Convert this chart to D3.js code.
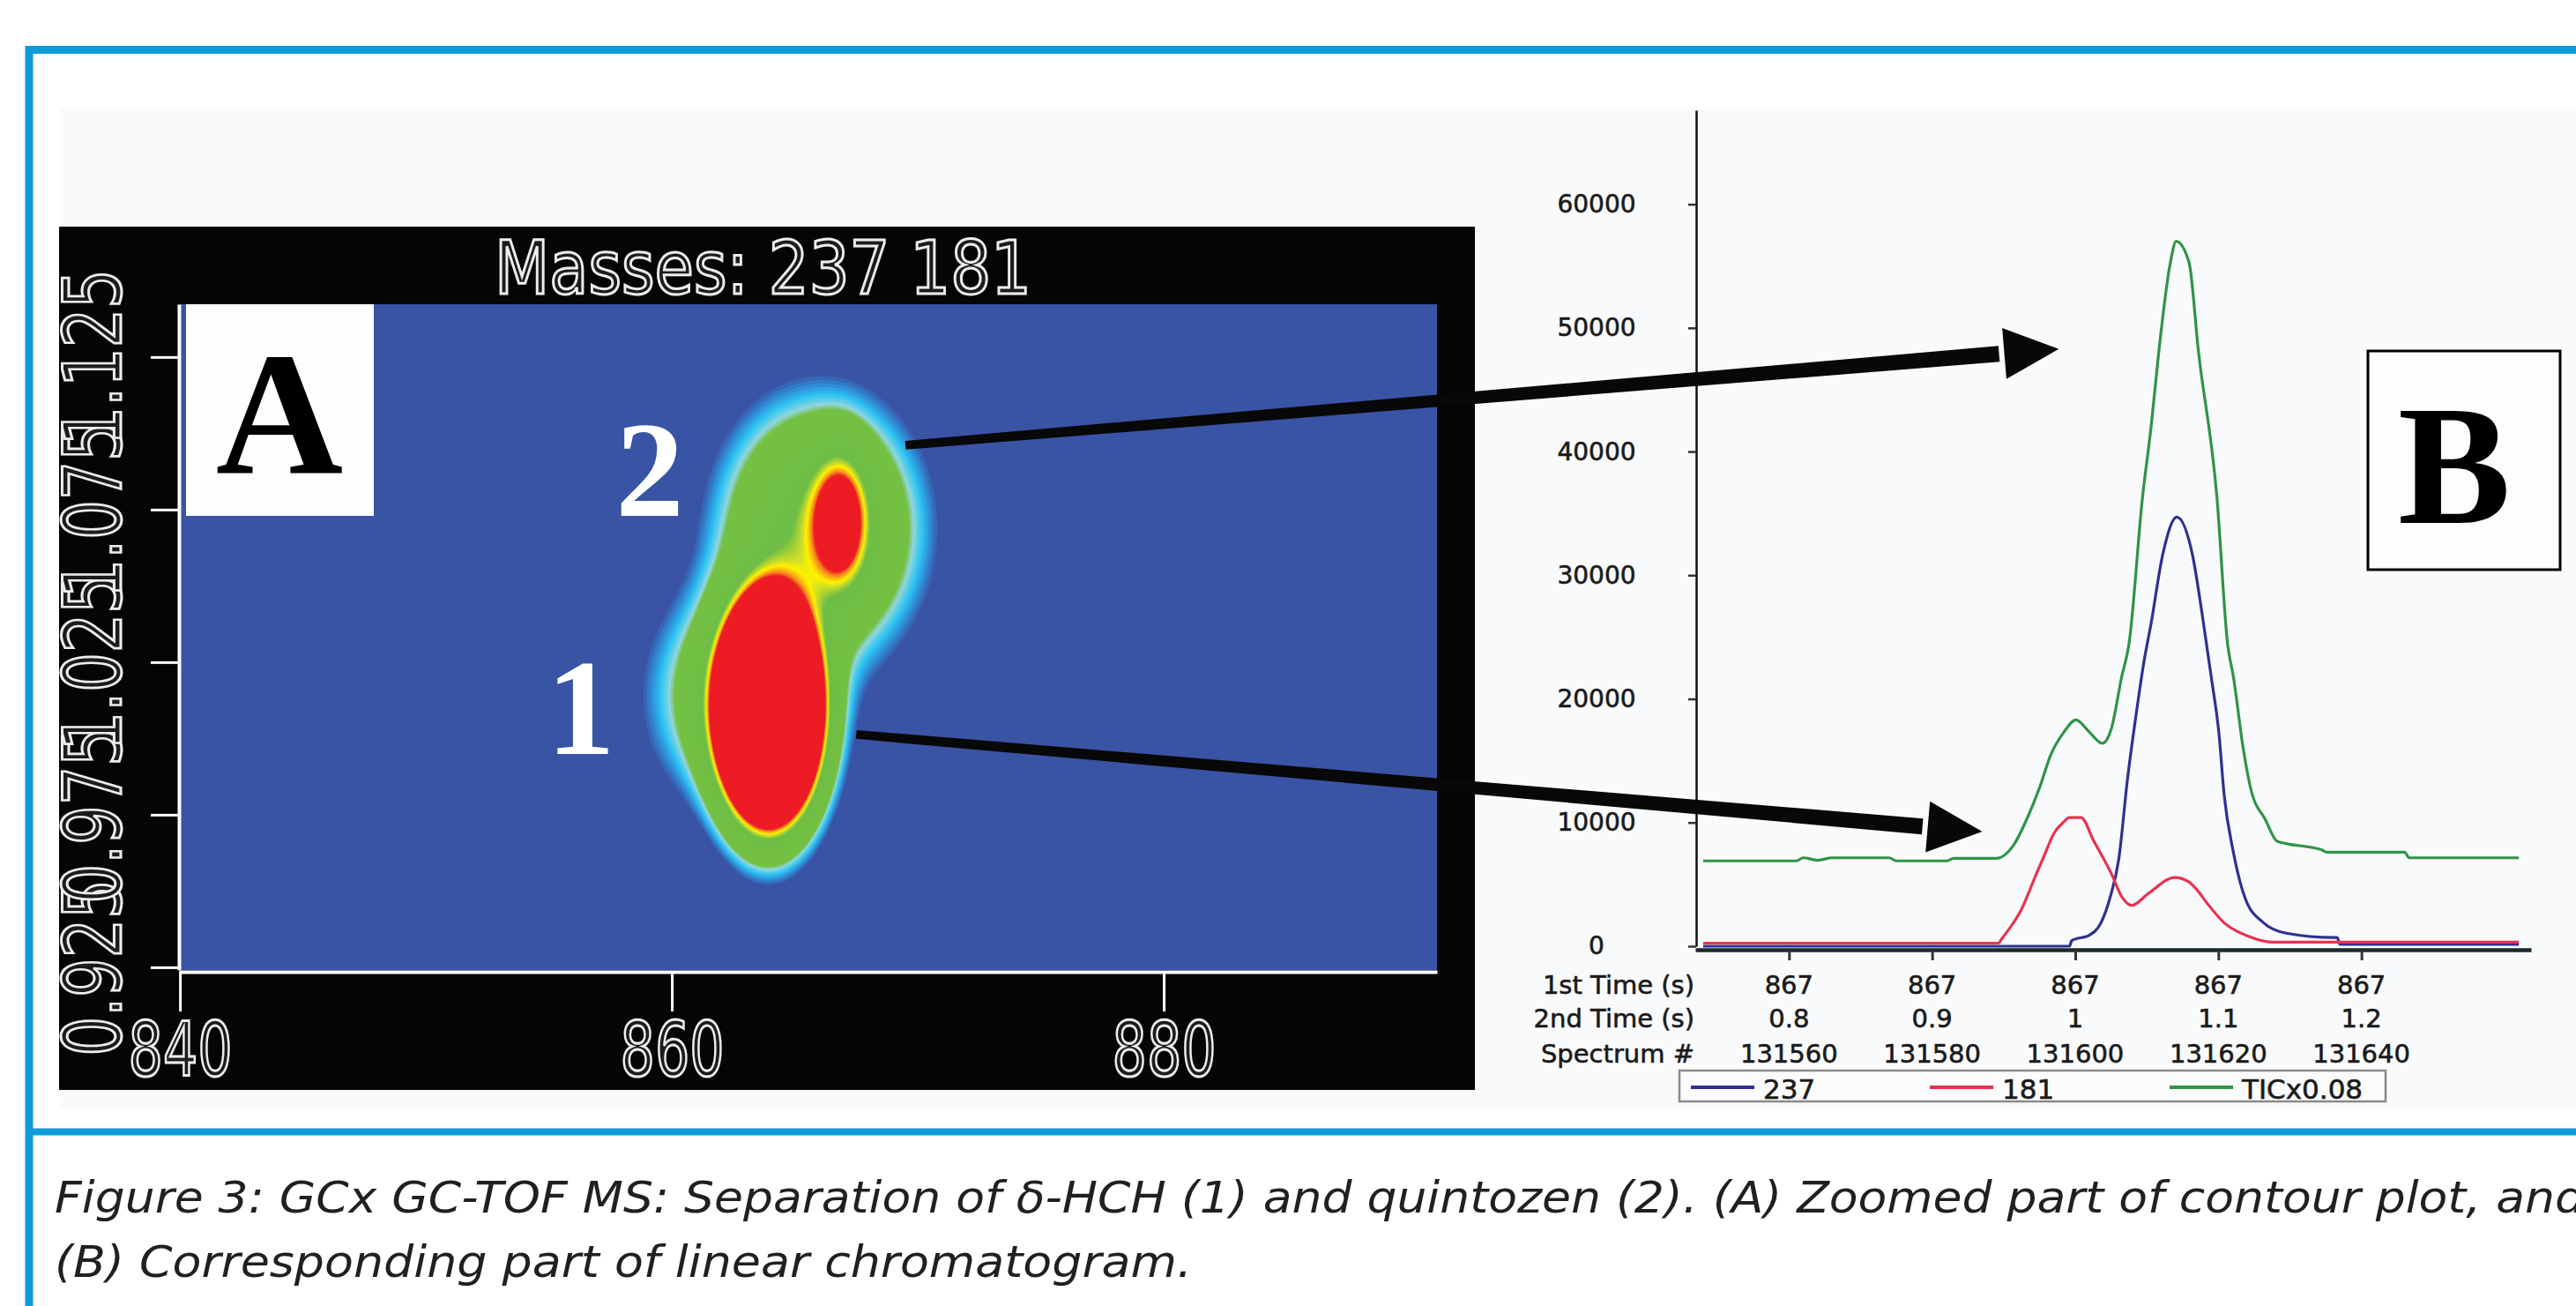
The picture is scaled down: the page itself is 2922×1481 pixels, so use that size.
<!DOCTYPE html>
<html>
<head>
<meta charset="utf-8">
<script src="https://cdn.jsdelivr.net/npm/d3@7"></script>
<style>
  html, body { margin: 0; padding: 0; background: #fff; }
  svg { display: block; }
</style>
</head>
<body>
<div id="chart"></div>
<script>
// ---------- panel A : GCxGC contour, peak components (1st time s, 2nd time s)
const peakT1 = [863.94, 862.8, 866.02, 866.85];
const peakT2 = [1.0094, 1.0138, 1.0686, 1.0715];
const peakW1 = [1.057, 2.2, 2.294, 0.717];
const peakW2 = [0.0185, 0.0215, 0.024, 0.0136];
const peakH = [4.54, 0.2, 0.35, 0.45];
const xTicksA = [840, 860, 880];
const yTicksA = [0.925, 0.975, 1.025, 1.075, 1.125];
const spotLabels = ["1", "2"];
const spotT1 = [856.3, 859.1];
const spotT2 = [0.995, 1.073];

// ---------- panel B : linear chromatogram
const specTicks = [131560, 131580, 131600, 131620, 131640];
const firstTime = ["867", "867", "867", "867", "867"];
const secondTime = ["0.8", "0.9", "1", "1.1", "1.2"];
const yTicksB = [0, 10000, 20000, 30000, 40000, 50000, 60000];

const spec237 = [131548, 131599.2, 131599.5, 131602, 131603.6, 131604.8, 131606.1, 131607.3, 131608.5, 131609.6, 131610.6, 131612.2, 131614.2, 131616.4, 131617.8, 131619, 131620.1, 131620.8, 131622.1, 131623.8, 131626.3, 131629.5, 131636.1, 131636.6, 131637, 131662];
const int237 = [0, 0, 450, 900, 1900, 3800, 7100, 13500, 18700, 23000, 26100, 31600, 34700, 31600, 26600, 21800, 17100, 12300, 7600, 3800, 1900, 1050, 700, 700, 150, 150];

const spec181 = [131548, 131589.3, 131589.7, 131592.5, 131594.6, 131595.5, 131597.1, 131598.3, 131599.2, 131600.8, 131602.6, 131605.1, 131606.5, 131607.9, 131610.2, 131613.9, 131615.9, 131617.1, 131618.4, 131620.8, 131624.2, 131627.5, 131662];
const int181 = [250, 250, 570, 3000, 5900, 7100, 9200, 10000, 10400, 10400, 8500, 5800, 4000, 3300, 4250, 5560, 5200, 4500, 3500, 1900, 800, 330, 330];

const specTIC = [131548, 131561, 131562, 131564, 131566, 131574, 131575, 131582, 131583, 131589, 131591.3, 131593.4, 131595, 131596.6, 131598.4, 131600.1, 131602, 131603.8, 131605, 131606.5, 131607.5, 131609.4, 131610.6, 131611.7, 131613.3, 131614.1, 131615.9, 131617.2, 131619.8, 131621.3, 131622.1, 131623.5, 131624.5, 131626.6, 131628.2, 131629.5, 131634.4, 131635.2, 131646, 131646.7, 131662];
const intTIC = [6900, 6900, 7150, 6950, 7150, 7150, 6900, 6900, 7100, 7100, 8100, 10500, 12800, 15500, 17300, 18300, 17300, 16400, 17500, 21800, 24400, 36300, 42000, 48200, 55300, 57000, 55300, 48200, 36300, 24400, 21800, 15900, 12800, 10200, 8500, 8300, 7800, 7600, 7600, 7150, 7150];

const seriesNames = ["237", "181", "TICx0.08"];
const seriesColors = ["#2e3192", "#e8334f", "#2f9446"];

// arrows: start in panel A (t1, t2), tip in panel B (spectrum, intensity)
const arrowT1 = [869.5, 867.5];
const arrowT2 = [1.0961, 1.0013];
const arrowSpec = [131597.7, 131587.0];
const arrowInt = [48300, 9270];

const W = 2922, H = 1481;
const svg = d3.select("#chart").append("svg")
  .attr("width", W).attr("height", H)
  .attr("viewBox", `0 0 ${W} ${H}`);

const blue = "#0e9bd8";
const narrow = "'Liberation Sans Narrow', 'Arial Narrow', 'DejaVu Sans Condensed', 'Roboto Condensed', sans-serif";
const serif = "'Liberation Serif', 'Times New Roman', serif";
const plain = "'DejaVu Sans', Verdana, sans-serif";

// frame + figure background
svg.append("rect").attr("x", 68).attr("y", 123).attr("width", W - 68).attr("height", 1134).attr("fill", "#f9fafc");
svg.append("path").attr("d", `M${W + 10},56.5H33V${H + 10}`)
  .attr("fill", "none").attr("stroke", blue).attr("stroke-width", 9);
svg.append("line").attr("x1", 33).attr("x2", W).attr("y1", 1283.5).attr("y2", 1283.5)
  .attr("stroke", blue).attr("stroke-width", 8);

// ================= PANEL A =================
svg.append("rect").attr("x", 67).attr("y", 257).attr("width", 1606).attr("height", 979).attr("fill", "#050505");

const xA = d3.scaleLinear().domain([839.96, 891.11]).range([203, 1630]);
const yA = d3.scaleLinear().domain([0.9241, 1.1423]).range([1100, 345]);

svg.append("clipPath").attr("id", "clipA").append("rect")
  .attr("x", 203).attr("y", 345).attr("width", 1427).attr("height", 755);

const gA = svg.append("g").attr("clip-path", "url(#clipA)");
gA.append("rect").attr("x", 203).attr("y", 345).attr("width", 1427).attr("height", 755).attr("fill", "#3953a5");

const cell = 3;
const nx = Math.ceil(1427 / cell), ny = Math.ceil(755 / cell);
const field = new Float64Array(nx * ny);
for (let j = 0; j < ny; j++) {
  const t2 = yA.invert(345 + (j + 0.5) * cell);
  for (let i = 0; i < nx; i++) {
    const t1 = xA.invert(203 + (i + 0.5) * cell);
    let v = 0;
    for (let k = 0; k < peakH.length; k++) {
      const a = (t1 - peakT1[k]) / peakW1[k], b = (t2 - peakT2[k]) / peakW2[k];
      v += peakH[k] * Math.exp(-0.5 * (a * a + b * b));
    }
    field[j * nx + i] = v;
  }
}
const levels = d3.range(0.03, 0.505, 0.005);
const heat = d3.scaleLinear()
  .domain([0.035, 0.05, 0.065, 0.085, 0.1, 0.34, 0.39, 0.42, 0.47, 0.5])
  .range(["#3953a5", "#2f8fd8", "#2ec4f3", "#8fd6dc", "#74c043", "#6ebe46", "#c8dc2c", "#fff200", "#f58220", "#ed1c24"])
  .clamp(true);
const contours = d3.contours().size([nx, ny]).thresholds(levels)(field);
const cpath = d3.geoPath(d3.geoIdentity().scale(cell).translate([203, 345]));
gA.selectAll("path.c").data(contours).join("path")
  .attr("class", "c")
  .attr("d", cpath)
  .attr("fill", d => heat(d.value));

// axes of panel A
const outlined = sel => sel
  .attr("fill", "#1c1c1c").attr("stroke", "#ededed").attr("stroke-width", 3)
  .attr("font-family", narrow).attr("font-stretch", "condensed");

const axA = svg.append("g").attr("transform", "translate(0,1102)")
  .call(d3.axisBottom(xA).tickValues(xTicksA).tickSize(45).tickSizeOuter(0).tickFormat(d3.format("d")));
axA.select(".domain").attr("stroke", "#fff").attr("stroke-width", 4);
axA.selectAll(".tick line").attr("stroke", "#fff").attr("stroke-width", 3);
axA.selectAll(".tick text").attr("y", 118).attr("dy", 0).attr("font-size", 86)
  .attr("textLength", 118).attr("lengthAdjust", "spacingAndGlyphs").call(outlined);

const ayA = svg.append("g").attr("transform", "translate(203,0)")
  .call(d3.axisLeft(yA).tickValues(yTicksA).tickSize(32).tickSizeOuter(0).tickFormat(d3.format(".3f")));
ayA.select(".domain").attr("stroke", "#fff").attr("stroke-width", 4);
ayA.selectAll(".tick line").attr("stroke", "#fff").attr("stroke-width", 3);
ayA.selectAll(".tick text")
  .attr("x", 0).attr("y", 0).attr("dy", 0)
  .attr("text-anchor", "middle")
  .attr("transform", "translate(-66,0) rotate(-90)")
  .attr("font-size", 90).attr("textLength", 200).attr("lengthAdjust", "spacingAndGlyphs")
  .call(outlined);

svg.append("text").attr("x", 561).attr("y", 333)
  .attr("font-size", 84).attr("textLength", 609).attr("lengthAdjust", "spacingAndGlyphs")
  .text("Masses:  237 181").call(outlined);

// A label box
svg.append("rect").attr("x", 211).attr("y", 345).attr("width", 213).attr("height", 240).attr("fill", "#fdfdfd");
svg.append("text").attr("x", 317).attr("y", 537).attr("text-anchor", "middle")
  .attr("font-family", serif).attr("font-weight", "bold").attr("font-size", 200).attr("fill", "#000").text("A");

// spot labels
svg.selectAll("text.spot").data(spotLabels).join("text")
  .attr("class", "spot")
  .attr("x", (d, i) => xA(spotT1[i])).attr("y", (d, i) => yA(spotT2[i]))
  .attr("text-anchor", "middle")
  .attr("font-family", serif).attr("font-weight", "bold").attr("font-size", 155)
  .attr("fill", "#fff").text(d => d);

// ================= PANEL B =================
const xB = d3.scaleLinear().domain([131546.9, 131663.7]).range([1923, 2871]);
const yB = d3.scaleLinear().domain([0, 67600]).range([1073, 125]);

const ayB = svg.append("g").attr("transform", "translate(1924,0)")
  .call(d3.axisLeft(yB).tickValues(yTicksB).tickSize(9).tickSizeOuter(0).tickFormat(d3.format("d")));
ayB.select(".domain").attr("stroke", "#111").attr("stroke-width", 2.5);
ayB.selectAll(".tick line").attr("stroke", "#333").attr("stroke-width", 2.5);
ayB.selectAll(".tick text").attr("x", -113).attr("text-anchor", "middle")
  .attr("font-family", plain).attr("font-size", 28).attr("fill", "#1a1a1a")
  .attr("stroke", "#1a1a1a").attr("stroke-width", 0.6);

const lines = [[spec237, int237], [spec181, int181], [specTIC, intTIC]];
const lineGen = d3.line().x(d => xB(d[0])).y(d => yB(d[1])).curve(d3.curveMonotoneX);
svg.selectAll("path.series").data(lines).join("path")
  .attr("class", "series")
  .attr("d", d => lineGen(d3.zip(d[0], d[1])))
  .attr("fill", "none")
  .attr("stroke", (d, i) => seriesColors[i])
  .attr("stroke-width", 3.2)
  .attr("stroke-linejoin", "round");

const axB = svg.append("g").attr("transform", "translate(0,1077)")
  .call(d3.axisBottom(xB).tickValues(specTicks).tickSize(12).tickSizeOuter(0).tickFormat(""));
axB.select(".domain").attr("stroke", "#1a2a2a").attr("stroke-width", 4.5);
axB.selectAll(".tick line").attr("stroke", "#333").attr("stroke-width", 3);

const rowNames = ["1st Time (s)", "2nd Time (s)", "Spectrum #"];
const rowY = [1127, 1165, 1205];
const rows = [firstTime, secondTime, specTicks.map(String)];
const gRows = svg.append("g").attr("font-family", plain).attr("font-size", 29).attr("fill", "#1a1a1a")
  .attr("stroke", "#1a1a1a").attr("stroke-width", 0.6);
rows.forEach((row, r) => {
  gRows.append("text").attr("x", 1922).attr("y", rowY[r]).attr("text-anchor", "end").text(rowNames[r]);
  gRows.selectAll(null).data(row).join("text")
    .attr("x", (d, i) => xB(specTicks[i])).attr("y", rowY[r])
    .attr("text-anchor", "middle").text(d => d);
});

// legend
const leg = svg.append("g");
leg.append("rect").attr("x", 1905).attr("y", 1214).attr("width", 801).attr("height", 35)
  .attr("fill", "#fbfbfb").attr("stroke", "#8a8a8a").attr("stroke-width", 2.5);
const legX = [1918, 2189, 2461];
seriesNames.forEach((name, i) => {
  leg.append("line").attr("x1", legX[i]).attr("x2", legX[i] + 72).attr("y1", 1233).attr("y2", 1233)
    .attr("stroke", seriesColors[i]).attr("stroke-width", 4);
  leg.append("text").attr("x", legX[i] + 82).attr("y", 1246)
    .attr("font-family", plain).attr("font-size", 31).attr("fill", "#1a1a1a")
    .attr("stroke", "#1a1a1a").attr("stroke-width", 0.6).text(name);
});

// B label box
svg.append("rect").attr("x", 2686).attr("y", 398).attr("width", 218).attr("height", 248)
  .attr("fill", "#fdfdfd").attr("stroke", "#000").attr("stroke-width", 3);
svg.append("text").attr("x", 2784).attr("y", 593).attr("text-anchor", "middle")
  .attr("font-family", serif).attr("font-weight", "bold").attr("font-size", 192).attr("fill", "#000").text("B");

// ================= arrows =================
arrowT1.forEach((t1, i) => {
  const x0 = xA(t1), y0 = yA(arrowT2[i]);
  const x1 = xB(arrowSpec[i]), y1 = yB(arrowInt[i]);
  const len = Math.hypot(x1 - x0, y1 - y0);
  const ux = (x1 - x0) / len, uy = (y1 - y0) / len;
  const nxv = -uy, nyv = ux;
  const head = 62, hw = 29;
  const bx = x1 - ux * head, by = y1 - uy * head;
  const sx = bx - ux * 6, sy = by - uy * 6;
  const pts = [
    [x0 + nxv * 5, y0 + nyv * 5],
    [sx + nxv * 9, sy + nyv * 9],
    [sx - nxv * 9, sy - nyv * 9],
    [x0 - nxv * 5, y0 - nyv * 5]
  ];
  svg.append("path").attr("d", d3.line()(pts) + "Z").attr("fill", "#080808");
  svg.append("path").attr("d", d3.line()([[bx + nxv * hw, by + nyv * hw], [x1, y1], [bx - nxv * hw, by - nyv * hw]]) + "Z")
    .attr("fill", "#080808");
});

// ================= caption =================
const cap = svg.append("g").attr("font-family", narrow).attr("font-stretch", "condensed")
  .attr("font-style", "italic").attr("font-size", 50).attr("fill", "#231f20");
cap.append("text").attr("x", 62).attr("y", 1375)
  .attr("textLength", 2870).attr("lengthAdjust", "spacingAndGlyphs")
  .text("Figure 3: GCx GC-TOF MS: Separation of \u03B4-HCH (1) and quintozen (2). (A) Zoomed part of contour plot, and");
cap.append("text").attr("x", 62).attr("y", 1448)
  .attr("textLength", 1290).attr("lengthAdjust", "spacingAndGlyphs")
  .text("(B) Corresponding part of linear chromatogram.");
</script>
</body>
</html>
